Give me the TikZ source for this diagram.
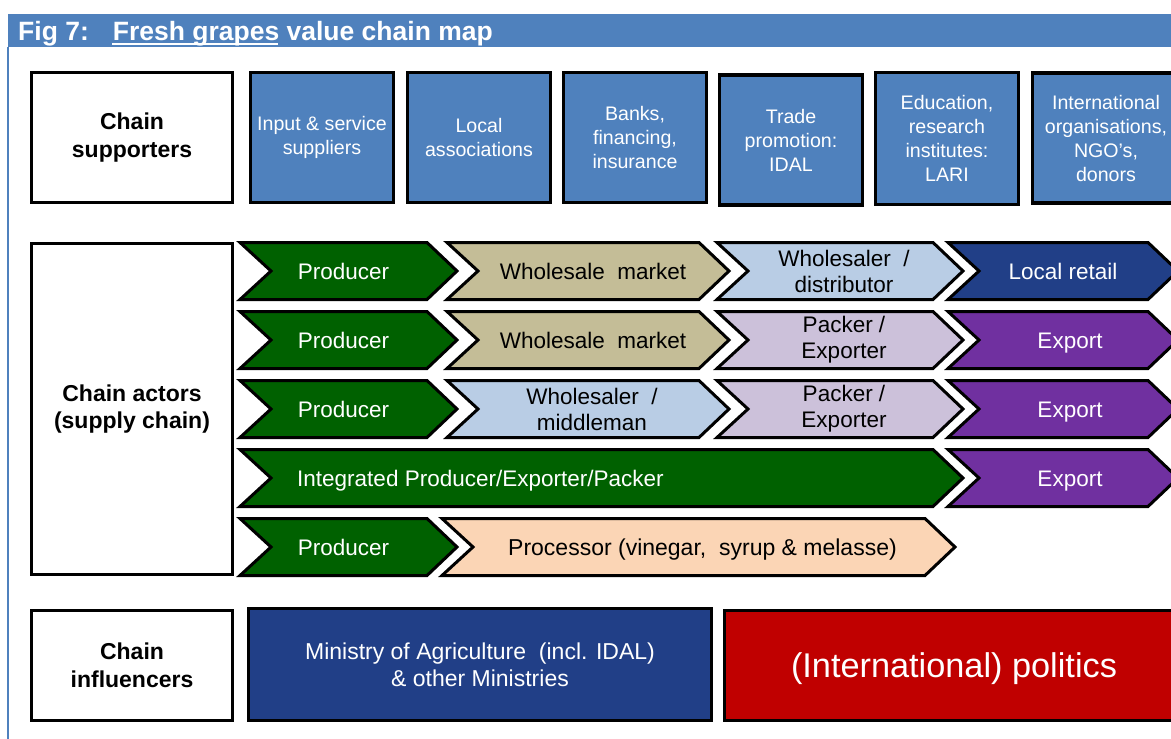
\documentclass[tikz,border=0pt]{standalone}
\usepackage{fontspec}
\setmainfont{Liberation Sans}
\definecolor{barblue}{HTML}{4F81BD}
\definecolor{navy}{HTML}{213F87}
\definecolor{polred}{HTML}{C00000}
\definecolor{prodgreen}{HTML}{006100}
\definecolor{tan}{HTML}{C4BD97}
\definecolor{lblue}{HTML}{B9CDE5}
\definecolor{lav}{HTML}{CCC1DA}
\definecolor{purp}{HTML}{7030A0}
\definecolor{peach}{HTML}{FBD5B5}
\newcommand\chev[8]{% name, x1, x2, ytop, fill, textcolour, extra style, text
  \draw[chevline, fill=#5] (#2,#4) -- ({#3-30},#4) -- (#3,{#4+28.5}) -- ({#3-30},{#4+57}) -- (#2,{#4+57}) -- ({#2+31},{#4+28.5}) -- cycle;
  \node[ctext, text=#6, #7] (#1) at ({(#2+#3)/2},{#4+28.5}) {#8};}
\begin{document}
\begin{tikzpicture}[x=1pt,y=-1pt,
  chevline/.style={draw=black, line width=3pt, line join=miter},
  ctext/.style={align=center, inner sep=0pt, font=\fontsize{22.5}{26}\selectfont},
  oneline/.style={text height=16.1pt, text depth=0pt},
  prod/.style={oneline, xshift=-5pt},
  wm/.style={oneline, xshift=5pt},
  exp/.style={oneline, xshift=7pt},
  two/.style={xshift=4pt},
  wbox/.style={draw=black, line width=3pt, fill=white, align=center, inner sep=0pt, minimum width=201, font=\fontsize{23}{27.5}\selectfont\bfseries},
  sbox/.style={draw=black, line width=3.5pt, fill=barblue, text=white, align=center, inner sep=0pt, minimum width=143, minimum height=130, font=\fontsize{19.6}{24}\selectfont},
  ibox/.style={draw=black, line width=3pt, text=white, align=center, inner sep=0pt}]
\useasboundingbox (0,0) rectangle (1171,739);
% title bar and frame
\fill[barblue] (8,14) rectangle (1171,47);
\draw[barblue, line width=2pt] (8,47) -- (8,739);
\node[anchor=base west, text=white, inner sep=0pt, font=\fontsize{26.5}{30}\selectfont\bfseries] (title) at (18,40)
  {Fig 7:\hspace{24pt}Fresh grapes value chain map};
\draw[white, line width=1.8pt] (112,44.2) -- (278,44.2);
% supporters
\node[wbox, minimum height=130] (cs) at (132,137.5) {Chain\\supporters};
\node[sbox] (s1) at (322,137.5) {Input \& service\\suppliers};
\node[sbox] (s2) at (479,137.5) {Local\\associations};
\node[sbox] (s3) at (635,137.5) {Banks,\\financing,\\insurance};
\node[sbox] (s4) at (791,140) {Trade\\promotion:\\IDAL};
\node[sbox, minimum height=132] (s5) at (947,138.5) {Education,\\research\\institutes:\\LARI};
\node[sbox, minimum width=147] (s6) at (1106,138) {International\\organisations,\\NGO’s,\\donors};
% actors
\node[wbox, minimum height=331] (ca) at (132,409) {Chain actors\\(supply chain)};
\chev{r1a}{240}{457}{242.5}{prodgreen}{white}{prod}{Producer}
\chev{r1b}{447}{729}{242.5}{tan}{black}{wm}{Wholesale\ \ market}
\chev{r1c}{717}{963}{242.5}{lblue}{black}{two}{Wholesaler\ \ /\\distributor}
\chev{r1d}{948}{1178}{242.5}{navy}{white}{oneline}{Local retail}
\chev{r2a}{240}{457}{311.5}{prodgreen}{white}{prod}{Producer}
\chev{r2b}{447}{729}{311.5}{tan}{black}{wm}{Wholesale\ \ market}
\chev{r2c}{717}{963}{311.5}{lav}{black}{two}{Packer /\\Exporter}
\chev{r2d}{948}{1178}{311.5}{purp}{white}{exp}{Export}
\chev{r3a}{240}{457}{380.5}{prodgreen}{white}{prod}{Producer}
\chev{r3b}{447}{729}{380.5}{lblue}{black}{two}{Wholesaler\ \ /\\middleman}
\chev{r3c}{717}{963}{380.5}{lav}{black}{two}{Packer /\\Exporter}
\chev{r3d}{948}{1178}{380.5}{purp}{white}{exp}{Export}
\draw[chevline, fill=prodgreen] (240,449.5) -- (933,449.5) -- (963,478) -- (933,506.5) -- (240,506.5) -- (271,478) -- cycle;
\node[ctext, oneline, text=white, anchor=west] (r4a) at (297,478) {Integrated Producer/Exporter/Packer};
\chev{r4b}{948}{1178}{449.5}{purp}{white}{exp}{Export}
\chev{r5a}{240}{457}{518.5}{prodgreen}{white}{prod}{Producer}
\chev{r5b}{442}{955}{518.5}{peach}{black}{oneline, xshift=4pt, font=\fontsize{23}{26}\selectfont}{Processor (vinegar,\ \ syrup \& melasse)}
% influencers
\node[wbox, minimum height=110] (ci) at (132,665.5) {Chain\\influencers};
\node[ibox, fill=navy, minimum width=463, minimum height=112, font=\fontsize{23}{27}\selectfont] (min) at (480,664.5)
  {Ministry of Agriculture\ \ (incl. IDAL)\\\& other Ministries};
\node[ibox, fill=polred, minimum width=459, minimum height=110, text height=24.5pt, text depth=0pt, font=\fontsize{34.3}{38}\selectfont] (pol) at (954,665.5)
  {(International) politics};
\end{tikzpicture}
\end{document}
